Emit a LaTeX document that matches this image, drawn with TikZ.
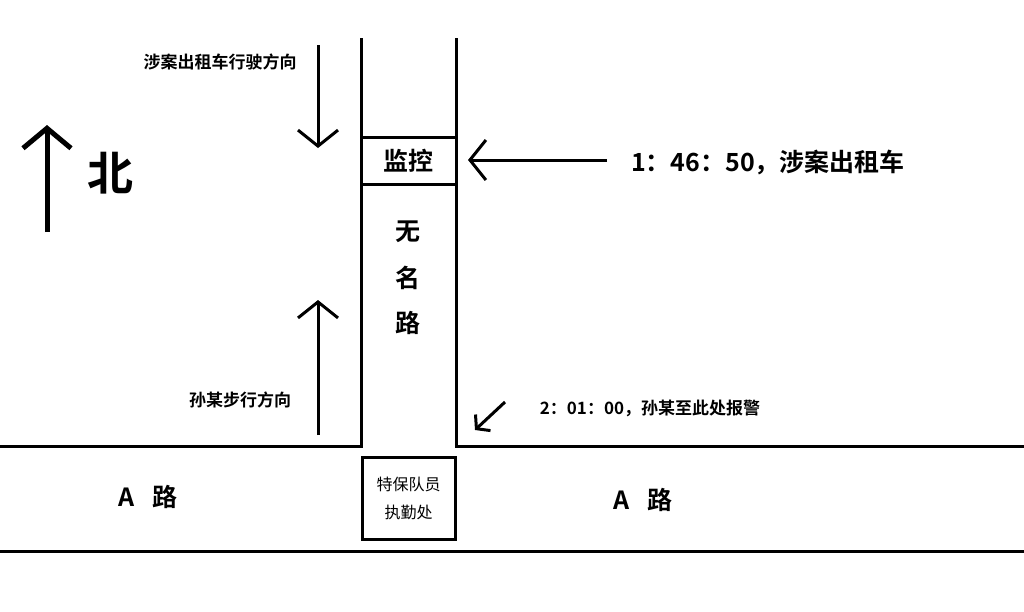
\documentclass[tikz,border=0pt]{standalone}
\usepackage{fontspec}
\newfontfamily\cjk{Noto Sans CJK SC}[BoldFont={Noto Sans CJK SC Bold}]
\usetikzlibrary{arrows.meta}
\begin{document}
\begin{tikzpicture}[x=1pt,y=-1pt,line width=3pt,
  ar/.style={-{Straight Barb[length=16pt,width=40pt,line width=3pt]}},
  lbl/.style={font=\cjk\bfseries\fontsize{17}{20}\selectfont},
  big/.style={font=\cjk\bfseries\fontsize{25}{30}\selectfont}]
\useasboundingbox[fill=white] (0,0) rectangle (1024,611);
\coordinate (r1t) at (361,38); \coordinate (r1b) at (361,446);
\coordinate (r2t) at (456,38); \coordinate (r2b) at (456,446);
\draw (r1t) -- (r1b) -- (0,446);
\draw (r2t) -- (r2b) -- (1024,446);
\draw (0,551) -- (1024,551);
\node[draw,minimum width=95pt,minimum height=47pt,big,inner sep=0] (mon) at (408.5,160.5) {监控};
\node[draw,minimum width=93pt,minimum height=82pt,inner sep=0,align=center,font=\cjk\fontsize{16}{28}\selectfont] (guard) at (408.5,498) {特保队员\\执勤处};
\node[big] (w1) at (408,232) {无};
\node[big] (w2) at (408,278) {名};
\node[big] (w3) at (408,323) {路};
\node[big] at (148,497) {A\hspace{18pt}路};
\node[big] at (643,500) {A\hspace{18pt}路};
\node[font=\cjk\bfseries\fontsize{46}{50}\selectfont] (north) at (110,173) {北};
\coordinate (n0) at (47,232); \coordinate (n1) at (47,125);
\draw[line width=5pt,-{Straight Barb[length=20pt,width=48pt,line width=5pt]}] (n0) -- (n1);
\coordinate (d0) at (318,45); \coordinate (d1) at (318,148);
\draw[ar] (d0) -- (d1);
\node[lbl] at (220,62) {涉案出租车行驶方向};
\coordinate (u0) at (318,435); \coordinate (u1) at (318,300);
\draw[ar] (u0) -- (u1);
\node[lbl] at (240,400) {孙某步行方向};
\coordinate (l0) at (607,160);
\draw[ar] (l0) -- (468,160);
\node[big] at (768,162) {1：46：50，涉案出租车};
\coordinate (s0) at (505,402);
\draw[-{Straight Barb[length=9pt,width=22pt,line width=3pt]}] (s0) -- (475,430);
\node[lbl] at (650,408) {2：01：00，孙某至此处报警};
\end{tikzpicture}
\end{document}
